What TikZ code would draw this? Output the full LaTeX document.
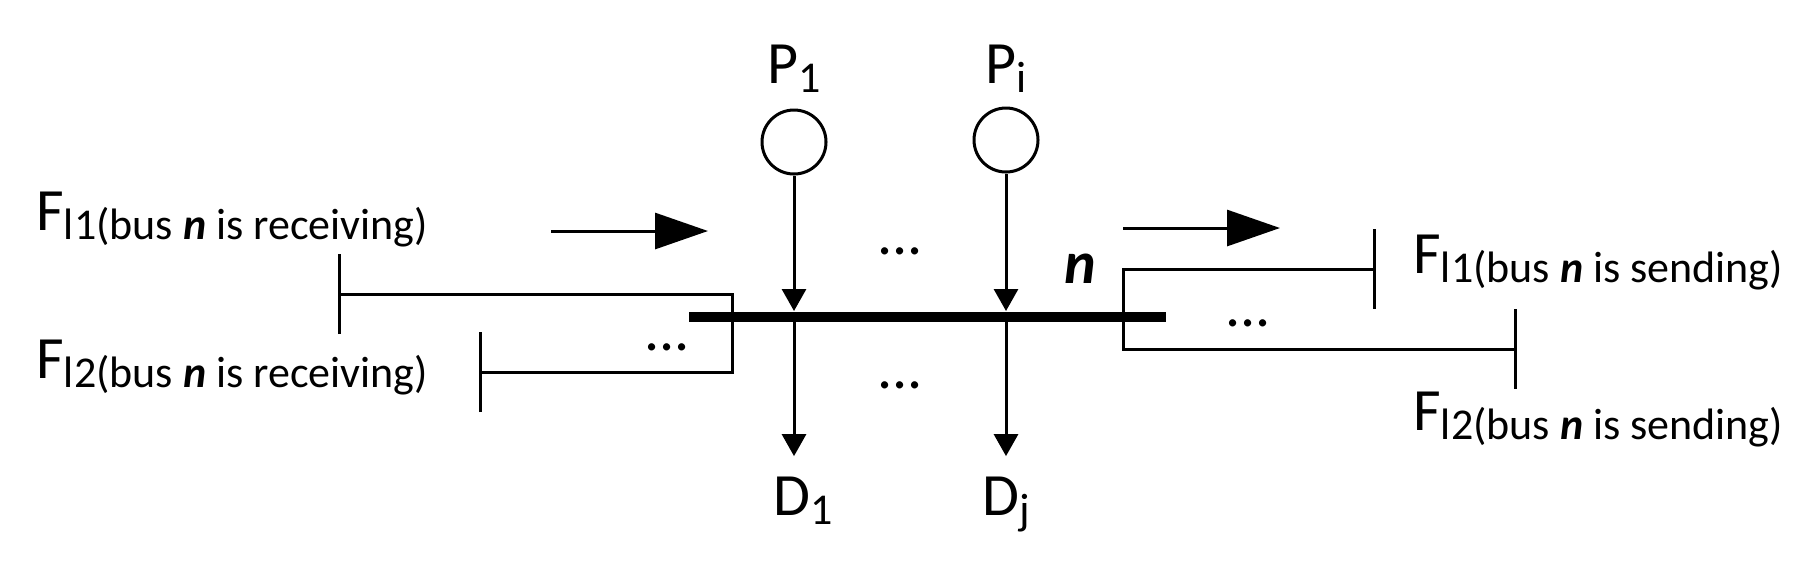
\documentclass[tikz,border=0pt]{standalone}
\usepackage{fontspec}
\setmainfont{Carlito}
\usetikzlibrary{arrows.meta}

\newcommand\lsub[1]{\raisebox{-4.5pt}{\fontsize{22}{26}\selectfont #1}}
\newcommand\busn{\textbf{\textit{n}}}

\tikzset{
  wire/.style={line width=1.5pt},
  flow/.style={line width=1.5pt, -{Triangle[length=11pt,width=12pt]}},
  bigflow/.style={line width=1.5pt, -{Triangle[length=26.5pt,width=18pt]}},
  tie/.style={line width=1.5pt, {Bar[width=40pt]}-{Bar[width=40pt]}},
  gen/.style={circle, draw, line width=1.5pt, minimum size=32pt, inner sep=0pt},
  lbl/.style={inner sep=0pt, font=\fontsize{30}{36}\selectfont},
  dlbl/.style={lbl, inner ysep=10pt},
}

\begin{document}
\begin{tikzpicture}

\newcommand\X{0.5pt}
\newcommand\Y{-0.5pt}

\useasboundingbox (0*\X, 0*\Y) rectangle (1803*\X, 570*\Y);

%% bus n
\coordinate (busL) at (689*\X, 317*\Y);
\coordinate (busR) at (1166*\X, 317*\Y);
\draw[line width=5pt] (busL) -- (busR);
\node[lbl, anchor=base west] (n) at (1064*\X, 283*\Y) {\busn};

%% generators and demands
\node[gen] (p1) at (794*\X, 142*\Y) {};
\node[gen] (pi) at (1006*\X, 140*\Y) {};
\node[lbl, anchor=base west] (p1lbl) at (767*\X, 83*\Y) {P\lsub{1}};
\node[lbl, anchor=base west] (pilbl) at (985*\X, 83*\Y) {P\lsub{i}};
\node[dlbl, anchor=base west] (d1) at (773*\X, 515*\Y) {D\lsub{1}};
\node[dlbl, anchor=base west] (dj) at (982*\X, 515*\Y) {D\lsub{j}};

\coordinate (b1) at (794*\X, 311*\Y);
\coordinate (bi) at (1006*\X, 311*\Y);
\coordinate (c1) at (794*\X, 317*\Y);
\coordinate (cj) at (1006*\X, 317*\Y);

\draw[flow] (p1) -- (b1);
\draw[flow] (pi) -- (bi);
\draw[flow] (c1) -- (c1 |- d1.north);
\draw[flow] (cj) -- (cj |- dj.north);

\node[lbl] (dotsP) at (900*\X, 251*\Y) {...};
\node[lbl] (dotsD) at (900*\X, 385*\Y) {...};
%%

%% lines into bus n
\coordinate (rcvA) at (338*\X, 294*\Y);
\coordinate (rcvK) at (732*\X, 372*\Y);
\coordinate (rcvB) at (479*\X, 372*\Y);
\draw[tie] (rcvA) -| (rcvK) -- (rcvB);
\node[lbl] (dotsR) at (667*\X, 347*\Y) {...};

\coordinate (inA) at (551*\X, 231*\Y);
\coordinate (inB) at (708*\X, 231*\Y);
\draw[bigflow] (inA) -- (inB);

\node[lbl, anchor=base west] (frcv1) at (36*\X, 230*\Y) {F\lsub{l1(bus \busn{} is receiving)}};
\node[lbl, anchor=base west] (frcv2) at (36*\X, 378*\Y) {F\lsub{l2(bus \busn{} is receiving)}};
%%

%% lines out of bus n
\coordinate (sndA) at (1376*\X, 269*\Y);
\coordinate (sndK) at (1123*\X, 349*\Y);
\coordinate (sndB) at (1517*\X, 349*\Y);
\draw[tie] (sndA) -| (sndK) -- (sndB);
\node[lbl] (dotsS) at (1248*\X, 323*\Y) {...};

\coordinate (outA) at (1123*\X, 228*\Y);
\coordinate (outB) at (1280*\X, 228*\Y);
\draw[bigflow] (outA) -- (outB);

\node[lbl, anchor=base west] (fsnd1) at (1413*\X, 273*\Y) {F\lsub{l1(bus \busn{} is sending)}};
\node[lbl, anchor=base west] (fsnd2) at (1413*\X, 430*\Y) {F\lsub{l2(bus \busn{} is sending)}};

\end{tikzpicture}
\end{document}
